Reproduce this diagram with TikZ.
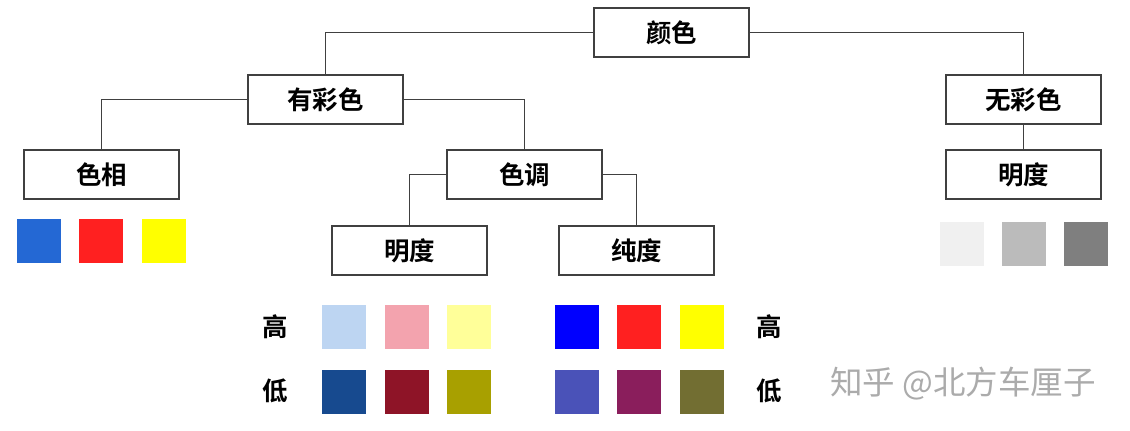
\documentclass[tikz,border=0pt]{standalone}
\usepackage{fontspec}
\newfontfamily\cjk{Noto Sans CJK SC}
\newfontfamily\cjkb{Noto Sans CJK SC Bold}
\definecolor{c1}{HTML}{2468D4}
\definecolor{c2}{HTML}{FF2020}
\definecolor{c3}{HTML}{FFFF00}
\definecolor{h1}{HTML}{BDD5F2}
\definecolor{h2}{HTML}{F3A3AE}
\definecolor{h3}{HTML}{FFFF99}
\definecolor{l1}{HTML}{174A8F}
\definecolor{l2}{HTML}{8E1427}
\definecolor{l3}{HTML}{A8A000}
\definecolor{p1}{HTML}{0000FF}
\definecolor{q1}{HTML}{4A52B8}
\definecolor{q2}{HTML}{8A1E5C}
\definecolor{q3}{HTML}{726E32}
\definecolor{g1}{HTML}{F0F0F0}
\definecolor{g2}{HTML}{BBBBBB}
\definecolor{g3}{HTML}{7F7F7F}
\definecolor{edge}{HTML}{404040}
\begin{document}
\begin{tikzpicture}[x=0.02cm,y=-0.02cm,
  box/.style={draw=edge,line width=0.8pt,fill=white,minimum width=3.1cm,minimum height=0.98cm,inner sep=0pt,font=\cjkb\fontsize{14.5}{16}\selectfont},
  conn/.style={draw=edge,line width=0.7pt},
  sw/.style={minimum size=0.88cm,inner sep=0pt},
  lab/.style={font=\cjkb\fontsize{14.5}{16}\selectfont}]
\useasboundingbox (0,0) rectangle (1130,431);
\node[box] (root) at (671.5,32.5) {颜色};
\node[box] (chroma) at (325.5,99.5) {有彩色};
\node[box] (achroma) at (1023.5,99.5) {无彩色};
\node[box] (hue) at (101.5,174.5) {色相};
\node[box] (tone) at (524.5,174.5) {色调};
\node[box] (abright) at (1023.5,174.5) {明度};
\node[box] (bright) at (409.5,250.5) {明度};
\node[box] (sat) at (636.5,250.5) {纯度};
\draw[conn] (root.west) -| (chroma.north);
\draw[conn] (root.east) -| (achroma.north);
\draw[conn] (chroma.west) -| (hue.north);
\draw[conn] (chroma.east) -| (tone.north);
\draw[conn] (achroma.south) -- (abright.north);
\draw[conn] (tone.west) -| (bright.north);
\draw[conn] (tone.east) -| (sat.north);
% hue swatches
\node[sw,fill=c1] (hs1) at (39,241) {};
\node[sw,fill=c2] (hs2) at (101,241) {};
\node[sw,fill=c3] (hs3) at (164,241) {};
% gray swatches
\node[sw,fill=g1] (gs1) at (962,244) {};
\node[sw,fill=g2] (gs2) at (1024,244) {};
\node[sw,fill=g3] (gs3) at (1086,244) {};
% brightness swatches
\node[sw,fill=h1] (bh1) at (344,327) {};
\node[sw,fill=h2] (bh2) at (407,327) {};
\node[sw,fill=h3] (bh3) at (469,327) {};
\node[sw,fill=l1] (bl1) at (344,392) {};
\node[sw,fill=l2] (bl2) at (407,392) {};
\node[sw,fill=l3] (bl3) at (469,392) {};
% saturation swatches
\node[sw,fill=p1] (sh1) at (577,327) {};
\node[sw,fill=c2] (sh2) at (639,327) {};
\node[sw,fill=c3] (sh3) at (702,327) {};
\node[sw,fill=q1] (sl1) at (577,392) {};
\node[sw,fill=q2] (sl2) at (639,392) {};
\node[sw,fill=q3] (sl3) at (702,392) {};
\node[lab] (hi1) at (275,327) {高};
\node[lab] (lo1) at (275,391) {低};
\node[lab] (hi2) at (769,327) {高};
\node[lab] (lo2) at (769,391) {低};
\node[font=\cjk\fontsize{18.5}{20}\selectfont,text=black!33] (wm) at (963,384) {知乎 @北方车厘子};
\end{tikzpicture}
\end{document}
